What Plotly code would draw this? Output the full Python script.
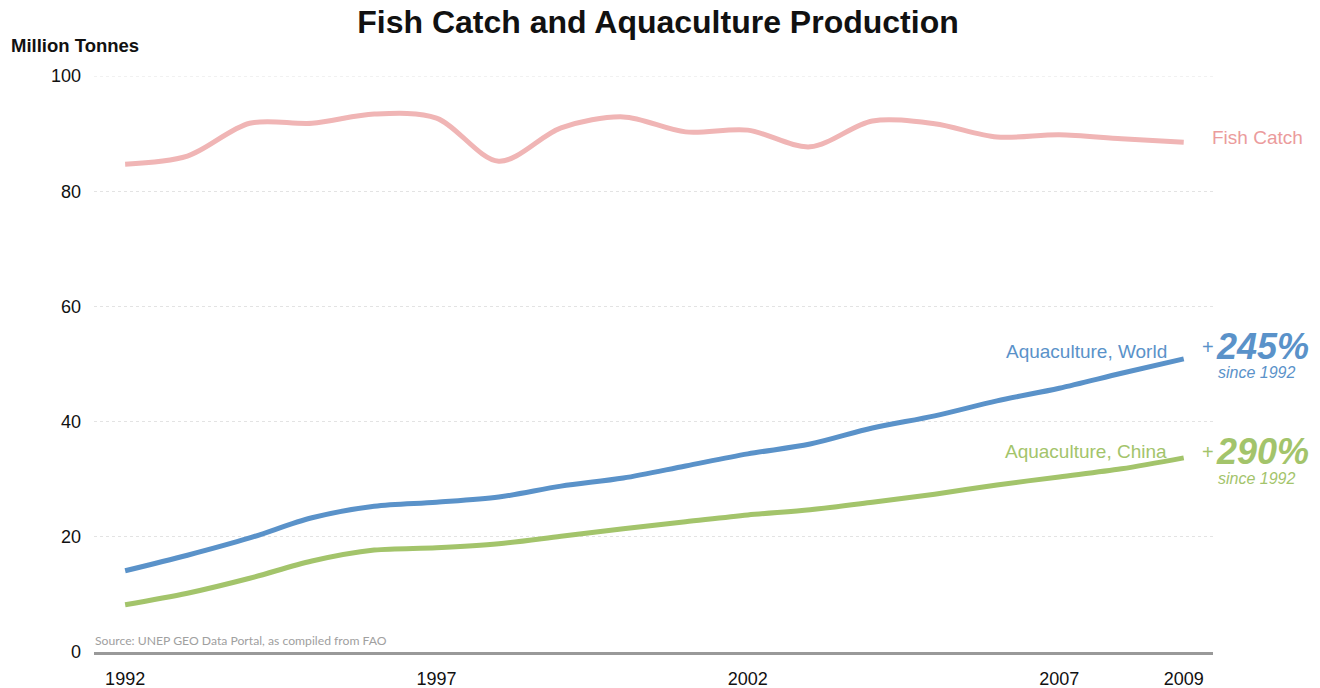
import plotly.graph_objects as go

years = list(range(1992, 2010))
fish_catch = [84.7, 86.1, 91.8, 91.8, 93.4, 92.7, 85.2, 91.0, 92.9, 90.3,
              90.6, 87.7, 92.2, 91.7, 89.4, 89.8, 89.1, 88.5]
aqua_world = [14.1, 16.8, 19.8, 23.3, 25.3, 26.0, 26.9, 28.8, 30.2, 32.3,
              34.4, 36.1, 38.9, 41.0, 43.6, 45.8, 48.4, 50.9]
aqua_china = [8.2, 10.2, 12.8, 15.8, 17.7, 18.1, 18.8, 20.1, 21.4, 22.6,
              23.8, 24.7, 26.0, 27.4, 29.0, 30.4, 31.8, 33.7]
x_ticks = [1992, 1997, 2002, 2007, 2009]
y_ticks = [0, 20, 40, 60, 80, 100]

C_FISH = "#f0b5b5"
C_FISH_TXT = "#eb9b9c"
C_WORLD = "#5a92c9"
C_CHINA = "#a3c46b"

fig = go.Figure()
for vals, col in [(fish_catch, C_FISH), (aqua_world, C_WORLD), (aqua_china, C_CHINA)]:
    fig.add_trace(go.Scatter(x=years, y=vals, mode="lines",
                             line=dict(color=col, width=5, shape="spline", smoothing=0.9),
                             hoverinfo="x+y", showlegend=False))

ann = []
ann.append(dict(x=1.0, xref="paper", xshift=-3, y=fish_catch[-1], yref="y", yshift=5,
                text="Fish Catch", showarrow=False, xanchor="left", yanchor="middle",
                font=dict(family="Arial", size=19, color=C_FISH_TXT)))
ann.append(dict(x=years[-1], xref="x", xshift=-15, y=aqua_world[-1], yref="y", yshift=7,
                text="Aquaculture, World", showarrow=False, xanchor="right", yanchor="middle",
                font=dict(family="Arial", size=19, color=C_WORLD)))
ann.append(dict(x=years[-1], xref="x", xshift=-15, y=aqua_china[-1], yref="y", yshift=6,
                text="Aquaculture, China", showarrow=False, xanchor="right", yanchor="middle",
                font=dict(family="Arial", size=19, color=C_CHINA)))
for val, col, txt, big_dy, small_dy in [(aqua_world[-1], C_WORLD, "245%", 12, -14),
                                        (aqua_china[-1], C_CHINA, "290%", 6, -21)]:
    ann.append(dict(x=1.0, xref="paper", xshift=-5, y=val, yref="y", yshift=big_dy,
                    text="+", showarrow=False, xanchor="center", yanchor="middle",
                    font=dict(family="Arial", size=20, color=col)))
    ann.append(dict(x=1.0, xref="paper", xshift=2, y=val, yref="y", yshift=big_dy,
                    text="<b><i>" + txt + "</i></b>", showarrow=False, xanchor="left",
                    yanchor="middle", borderpad=0,
                    font=dict(family="Arial", size=36, color=col)))
    ann.append(dict(x=1.0, xref="paper", xshift=43, y=val, yref="y", yshift=small_dy,
                    text="<i>since 1992</i>", showarrow=False, xanchor="center",
                    yanchor="middle", borderpad=0,
                    font=dict(family="Arial", size=16, color=col)))
ann.append(dict(x=0, xref="paper", xshift=-1, y=0, yref="y", yshift=12,
                text="Source: UNEP GEO Data Portal, as compiled from FAO",
                showarrow=False, xanchor="left", yanchor="middle",
                font=dict(family="Lato", size=12.2, color="#a0a0a0")))
ann.append(dict(x=0, xref="paper", xshift=-85, y=1, yref="paper", yshift=31,
                text="<b>Million Tonnes</b>", showarrow=False, xanchor="left", yanchor="middle",
                font=dict(family="Arial", size=18.5, color="#111")))

fig.update_layout(
    width=1312, height=680,
    margin=dict(l=86, r=107, t=68, b=36, autoexpand=False),
    plot_bgcolor="white", paper_bgcolor="white",
    title=dict(text="<b>Fish Catch and Aquaculture Production</b>", x=0.4954, xanchor="center",
               y=0.979, yanchor="middle", font=dict(family="Arial", size=32, color="#111")),
    annotations=ann,
    shapes=[dict(type="line", xref="paper", x0=0, x1=1, yref="y", y0=y_ticks[-1], y1=y_ticks[-1],
                 line=dict(color="#e3e3e3", width=1, dash="dot"), layer="below")],
    xaxis=dict(range=[1991.5, 2009.47], tickvals=x_ticks, showgrid=False, zeroline=False,
               showline=True, linecolor="#999999", linewidth=2.5, ticks="",
               ticklabelstandoff=9, automargin=False,
               tickfont=dict(family="Arial", size=18, color="#111")),
    yaxis=dict(range=[0, 100], tickvals=y_ticks, showgrid=True, gridcolor="#e3e3e3",
               griddash="dot", gridwidth=1, zeroline=False, showline=False, ticks="",
               ticklabelstandoff=12, automargin=False,
               tickfont=dict(family="Arial", size=18, color="#111")),
)

fig.write_html("out.html")
